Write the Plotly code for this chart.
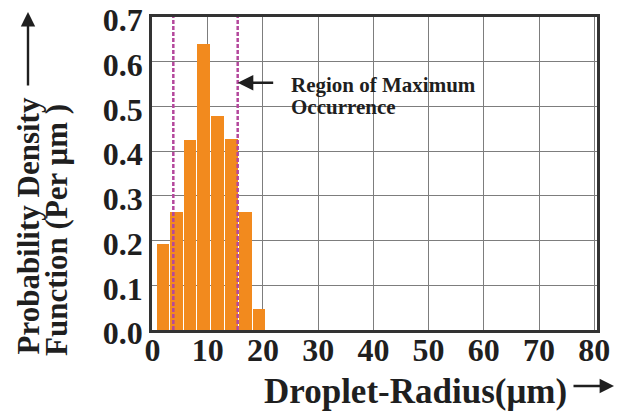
import plotly.graph_objects as go

# ---- data ----
radius_centers = [1.9, 4.35, 6.8, 9.25, 11.75, 14.3, 16.85, 19.3]
pdf_values = [0.192, 0.264, 0.426, 0.639, 0.478, 0.427, 0.264, 0.047]
bar_width = 2.23
region_bounds = [3.76, 15.42]
x_ticks = [0, 10, 20, 30, 40, 50, 60, 70, 80]
y_ticks = [0.0, 0.1, 0.2, 0.3, 0.4, 0.5, 0.6, 0.7]
y_tick_labels = ["0.0", "0.1", "0.2", "0.3", "0.4", "0.5", "0.6", "0.7"]

FONT = "Liberation Serif, Times New Roman, serif"
TXT = "#1f1f1f"

# the page body has an 8px default margin, so the figure is offset by 8px
OFF = 8
W, H = 627 - OFF, 413 - OFF
L, R, T, B = 152 - OFF, 30, 17 - OFF, 83
PW, PH = W - L - R, H - T - B


def px(x):  # page pixel -> paper x
    return (x - OFF - L) / PW


def py(y):  # page pixel -> paper y
    return (H - B - (y - OFF)) / PH


fig = go.Figure()
fig.add_trace(go.Bar(
    x=radius_centers, y=pdf_values, width=bar_width,
    marker=dict(color="#F28A1E", line=dict(width=0)),
    showlegend=False,
))

for xb in region_bounds:
    fig.add_shape(type="line", xref="x", yref="y", x0=xb, x1=xb, y0=0, y1=0.7,
                  line=dict(color="#B4479C", width=2.5, dash="4px,2px"), layer="above")

ann = []
# region annotation
ann.append(dict(xref="x", yref="y", x=region_bounds[1], y=0.553, text="", showarrow=True,
                ax=37, ay=0, arrowhead=2, arrowsize=1.3, arrowwidth=2.4, arrowcolor=TXT))
ann.append(dict(xref="x", yref="y", x=24.8, y=0.549, text="<b>Region of Maximum</b>",
                showarrow=False, xanchor="left", yanchor="middle",
                font=dict(family=FONT, size=21, color=TXT)))
ann.append(dict(xref="x", yref="y", x=24.8, y=0.499, text="<b>Occurrence</b>",
                showarrow=False, xanchor="left", yanchor="middle",
                font=dict(family=FONT, size=21, color=TXT)))
# y title
ann.append(dict(xref="paper", yref="paper", x=px(28), y=py(357), text="<b>Probability Density</b>",
                textangle=-90, showarrow=False, xanchor="center", yanchor="bottom",
                font=dict(family=FONT, size=31, color=TXT)))
ann.append(dict(xref="paper", yref="paper", x=px(56), y=py(358), text="<b>Function (Per μm )</b>",
                textangle=-90, showarrow=False, xanchor="center", yanchor="bottom",
                font=dict(family=FONT, size=31, color=TXT)))
ann.append(dict(xref="paper", yref="paper", x=px(28), y=py(12), text="", showarrow=True,
                ax=0, ay=75, arrowhead=2, arrowsize=1.2, arrowwidth=2.4, arrowcolor=TXT))
# x title
ann.append(dict(xref="paper", yref="paper", x=px(262), y=py(391), text="<b>Droplet-Radius(μm)</b>",
                showarrow=False, xanchor="left", yanchor="middle",
                font=dict(family=FONT, size=35, color=TXT)))
ann.append(dict(xref="paper", yref="paper", x=px(614), y=py(386), text="", showarrow=True,
                ax=-42, ay=0, arrowhead=2, arrowsize=1.2, arrowwidth=2.4, arrowcolor=TXT))

fig.update_layout(
    width=W, height=H,
    margin=dict(l=L, r=R, t=T, b=B, autoexpand=False),
    paper_bgcolor="white", plot_bgcolor="white",
    annotations=ann,
    bargap=0,
    font=dict(family=FONT, color=TXT),
)
fig.update_xaxes(
    range=[-0.1, 80.5], tickvals=x_ticks, ticktext=[f"<b>{v}</b>" for v in x_ticks],
    showgrid=True, gridcolor="#7d7d7d", gridwidth=1, automargin=False,
    showline=True, linecolor="#333333", linewidth=2.5, mirror=True,
    ticks="", ticklabelstandoff=-10, zeroline=False, ticklabeloverflow="allow",
    tickfont=dict(family=FONT, size=32, color=TXT),
)
fig.update_yaxes(
    range=[0, 0.7002], tickvals=y_ticks, ticktext=[f"<b>{t}</b>" for t in y_tick_labels],
    showgrid=True, gridcolor="#7d7d7d", gridwidth=1, automargin=False,
    showline=True, linecolor="#333333", linewidth=2.5, mirror=True,
    ticks="", ticklabelstandoff=0, ticklabelshift=3, zeroline=False, ticklabeloverflow="allow",
    tickfont=dict(family=FONT, size=32, color=TXT),
)

fig.write_html("out.html")
